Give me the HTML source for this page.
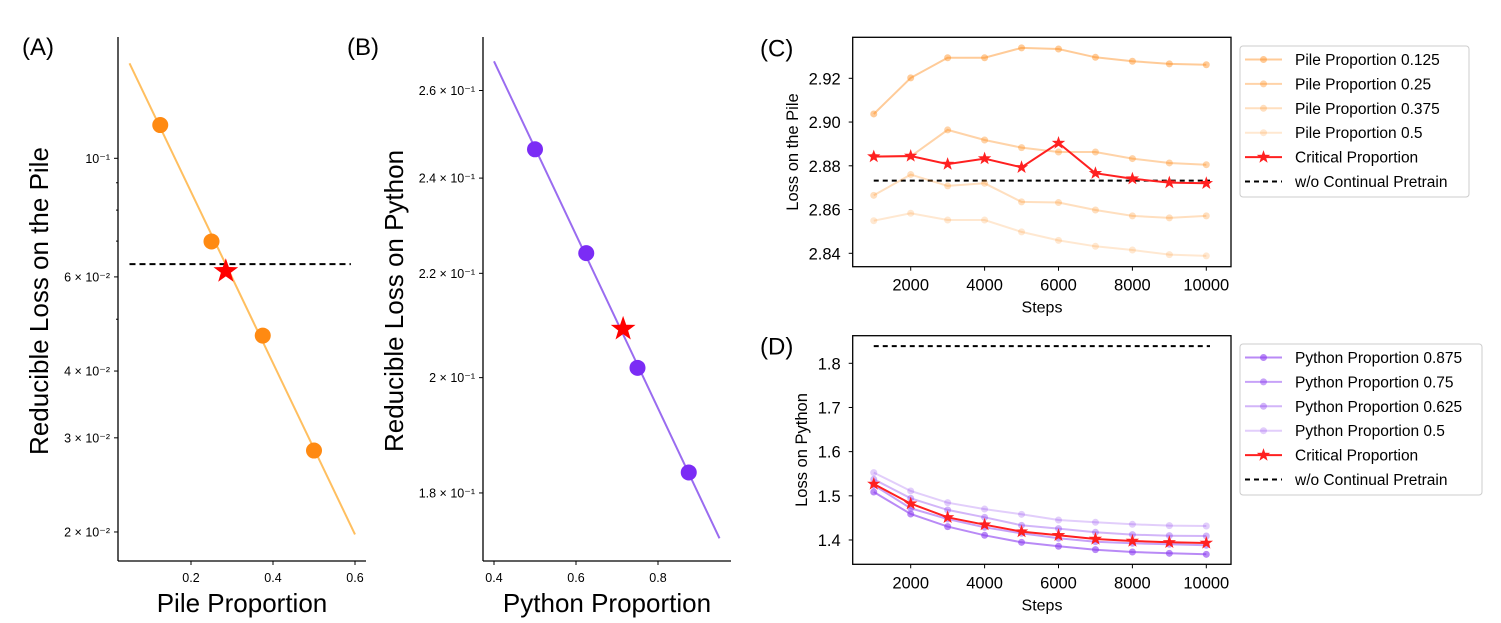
<!DOCTYPE html>
<html><head><meta charset="utf-8"><style>
html,body{margin:0;padding:0;background:#fff;}
svg{display:block;font-family:"Liberation Sans",Arial,sans-serif;}
</style></head><body>
<svg id="fig" width="1501" height="623" viewBox="0 0 1501 623" xmlns="http://www.w3.org/2000/svg"></svg>
<script>
// ---- Panel A data ----
const pileProps = [0.125, 0.25, 0.375, 0.5];
const pileLoss = [0.1154, 0.0699, 0.0466, 0.0284];
const pileCritX = [0.285];
const pileCritY = [0.0615];
const pileBaseline = [0.0634];
const pileYTicks = [0.1, 0.06, 0.04, 0.03, 0.02];
const pileYTickLabels = ["10⁻¹", "6 × 10⁻²", "4 × 10⁻²", "3 × 10⁻²", "2 × 10⁻²"];
const pileYMinor = [0.09, 0.08, 0.07, 0.05];
const pileXTicks = [0.2, 0.4, 0.6];
// ---- Panel B data ----
const pyProps = [0.5, 0.625, 0.75, 0.875];
const pyLoss = [0.2464, 0.2241, 0.2018, 0.1834];
const pyCritX = [0.715];
const pyCritY = [0.2091];
const pyYTicks = [0.26, 0.24, 0.22, 0.2, 0.18];
const pyYTickLabels = ["2.6 × 10⁻¹", "2.4 × 10⁻¹", "2.2 × 10⁻¹", "2 × 10⁻¹", "1.8 × 10⁻¹"];
const pyXTicks = [0.4, 0.6, 0.8];
// ---- Panel C data ----
const steps = [1000,2000,3000,4000,5000,6000,7000,8000,9000,10000];
const pile0125 = [2.9037,2.9202,2.9294,2.9294,2.9339,2.9334,2.9296,2.9278,2.9266,2.9262];
const pile025 = [2.8843,2.8843,2.8964,2.8918,2.8883,2.8863,2.8863,2.8833,2.8813,2.8805];
const pile0375 = [2.8665,2.8760,2.8708,2.8720,2.8635,2.8632,2.8598,2.8571,2.8562,2.8571];
const pile05 = [2.8549,2.8583,2.8552,2.8552,2.8498,2.8459,2.8432,2.8415,2.8394,2.8388];
const pileCrit = [2.8842,2.8845,2.8808,2.8833,2.8793,2.8904,2.8766,2.8741,2.8723,2.8720];
const pileNoCPT = [2.8732];
const cYTicks = [2.84,2.86,2.88,2.90,2.92];
const cYTickLabels = ["2.84","2.86","2.88","2.90","2.92"];
const stepTicks = [2000,4000,6000,8000,10000];
// ---- Panel D data ----
const py0875 = [1.5087,1.4589,1.4302,1.4106,1.3947,1.3857,1.3781,1.3728,1.3698,1.3675];
const py075 = [1.5240,1.4717,1.4475,1.4287,1.4151,1.4038,1.3962,1.3925,1.3902,1.3880];
const py0625 = [1.5374,1.4943,1.4680,1.4513,1.4332,1.4257,1.4174,1.4121,1.4098,1.4090];
const py05 = [1.5525,1.5110,1.4845,1.4700,1.4581,1.4453,1.4400,1.4355,1.4325,1.4317];
const pyCrit = [1.5268,1.4823,1.4513,1.4347,1.4189,1.4106,1.4023,1.3977,1.3947,1.3932];
const pyNoCPT = [1.839];
const dYTicks = [1.4,1.5,1.6,1.7,1.8];
const dYTickLabels = ["1.4","1.5","1.6","1.7","1.8"];

const NS = "http://www.w3.org/2000/svg";
const svg = document.getElementById('fig');
function mk(tag, attrs, parent, text){
  const e = document.createElementNS(NS, tag);
  for (const k in attrs) e.setAttribute(k, attrs[k]);
  if (text !== undefined) e.textContent = text;
  (parent || svg).appendChild(e);
  return e;
}
function grp(name){
  const g = document.createElementNS(NS,'g');
  
  
  svg.appendChild(g);
  return g;
}
function starPts(cx, cy, R){
  const r = R*0.4; let p=[];
  for(let i=0;i<10;i++){const a=-Math.PI/2+i*Math.PI/5; const rr=i%2?r:R; p.push((cx+rr*Math.cos(a)).toFixed(1)+','+(cy+rr*Math.sin(a)).toFixed(1));}
  return p.join(' ');
}
function fit(xs, ys){
  const n=xs.length; const ly=ys.map(Math.log10);
  const mx=xs.reduce((a,b)=>a+b)/n, my=ly.reduce((a,b)=>a+b)/n;
  let sxy=0,sxx=0; for(let i=0;i<n;i++){sxy+=(xs[i]-mx)*(ly[i]-my); sxx+=(xs[i]-mx)**2;}
  const b=sxy/sxx; return x=>Math.pow(10, my+b*(x-mx));
}

// ===== Panel A =====
(function(){
  const g = grp('panel-a');
  const xA = v => 109 + v*410;
  const yA = v => 158.3 + (-1 - Math.log10(v))*534.6;
  mk('text',{x:22,y:55,'font-size':24,},g,'(A)');
  mk('line',{x1:118,y1:37,x2:118,y2:561,stroke:'#000','stroke-width':1.3,},g);
  mk('line',{x1:118,y1:561,x2:366,y2:561,stroke:'#000','stroke-width':1.3,},g);
  pileYTicks.forEach((t,i)=>{
    const y=yA(t);
    const l=mk('line',{x1:114,y1:y,x2:118,y2:y,stroke:'#000'},g);
     
    const tx=mk('text',{x:110,y:y+4.5,'font-size':12.5,'text-anchor':'end'},g,pileYTickLabels[i]);
     
  });
  pileYMinor.forEach(t=>{const y=yA(t); const l=mk('line',{x1:116,y1:y,x2:118,y2:y,stroke:'#000'},g);
     });
  pileXTicks.forEach(t=>{const x=xA(t);
    const l=mk('line',{x1:x,y1:561,x2:x,y2:565,stroke:'#000'},g);
     
    const tx=mk('text',{x:x,y:582,'font-size':12.5,'text-anchor':'middle'},g,t.toFixed(1));
     });
  const f=fit(pileProps,pileLoss);
  const fl=mk('line',{x1:xA(0.05),y1:yA(f(0.05)),x2:xA(0.6),y2:yA(f(0.6)),stroke:'#ffbf60','stroke-width':2},g);
   
  const bl=mk('line',{x1:xA(0.05),y1:yA(pileBaseline[0]),x2:xA(0.59),y2:yA(pileBaseline[0]),stroke:'#000','stroke-width':2,'stroke-dasharray':'6,4'},g);
   
  pileProps.forEach((p,i)=>{const c=mk('ellipse',{cx:xA(p),cy:yA(pileLoss[i]),rx:8,ry:8,fill:'#ff8a12'},g);
     });
  const s=mk('polygon',{points:starPts(xA(pileCritX[0]),yA(pileCritY[0]),13),fill:'#ff0000'},g);
   
  mk('text',{x:48,y:301,'font-size':26,'text-anchor':'middle',transform:'rotate(-90 48 301)',},g,'Reducible Loss on the Pile');
  mk('text',{x:242,y:612,'font-size':26,'text-anchor':'middle',},g,'Pile Proportion');
})();

// ===== Panel B =====
(function(){
  const g = grp('panel-b');
  const xB = v => 494 + (v-0.4)*410;
  const yB = v => 90.5 + (Math.log10(0.26) - Math.log10(v))*2520;
  mk('text',{x:347,y:55,'font-size':24,},g,'(B)');
  mk('line',{x1:483,y1:37,x2:483,y2:561,stroke:'#000','stroke-width':1.3,},g);
  mk('line',{x1:483,y1:561,x2:731,y2:561,stroke:'#000','stroke-width':1.3,},g);
  pyYTicks.forEach((t,i)=>{const y=yB(t);
    const l=mk('line',{x1:479,y1:y,x2:483,y2:y,stroke:'#000'},g);
     
    const tx=mk('text',{x:475,y:y+4.5,'font-size':12.5,'text-anchor':'end'},g,pyYTickLabels[i]);
     });
  pyXTicks.forEach(t=>{const x=xB(t);
    const l=mk('line',{x1:x,y1:561,x2:x,y2:565,stroke:'#000'},g);
     
    const tx=mk('text',{x:x,y:582,'font-size':12.5,'text-anchor':'middle'},g,t.toFixed(1));
     });
  const f=fit(pyProps,pyLoss);
  const fl=mk('line',{x1:xB(0.4),y1:yB(f(0.4)),x2:xB(0.95),y2:yB(f(0.95)),stroke:'#9a6cf0','stroke-width':2},g);
   
  pyProps.forEach((p,i)=>{const c=mk('ellipse',{cx:xB(p),cy:yB(pyLoss[i]),rx:8,ry:8,fill:'#7b2cf5'},g);
     });
  const s=mk('polygon',{points:starPts(xB(pyCritX[0]),yB(pyCritY[0]),13),fill:'#ff0000'},g);
   
  mk('text',{x:403,y:301,'font-size':26,'text-anchor':'middle',transform:'rotate(-90 403 301)',},g,'Reducible Loss on Python');
  mk('text',{x:607,y:612,'font-size':26,'text-anchor':'middle',},g,'Python Proportion');
})();

// ===== Line panels C & D =====
function linePanel(o){
  const g = grp(o.name);
  const L=852.7,R=1231,T=o.top,B=o.bottom;
  const xS = v => 836.8 + v*0.03695;
  const yS = v => o.y0px + (o.y0 - v)*o.pxPer;
  mk('text',{x:760,y:o.top+19,'font-size':24,},g,o.label);
  mk('rect',{x:L,y:T,width:R-L,height:B-T,fill:'none',stroke:'#000','stroke-width':1.3,},g);
  o.yTicks.forEach((t,i)=>{const y=yS(t);
    const l=mk('line',{x1:L-4,y1:y,x2:L,y2:y,stroke:'#000'},g);
     
    const tx=mk('text',{x:L-12,y:y+6,'font-size':16.5,'text-anchor':'end'},g,o.yLabels[i]);
     });
  stepTicks.forEach(t=>{const x=xS(t);
    const l=mk('line',{x1:x,y1:B,x2:x,y2:B+4,stroke:'#000'},g);
     
    const tx=mk('text',{x:x,y:B+24,'font-size':16.5,'text-anchor':'middle'},g,String(t));
     });
  mk('text',{x:1042,y:B+46,'font-size':16,'text-anchor':'middle',},g,'Steps');
  mk('text',{x:o.ylx,y:(T+B)/2,'font-size':16.5,'text-anchor':'middle',transform:`rotate(-90 ${o.ylx} ${(T+B)/2})`,},g,o.yTitle);
  const base=mk('line',{x1:xS(1000),y1:yS(o.base),x2:xS(10100),y2:yS(o.base),stroke:'#000','stroke-width':2,'stroke-dasharray':'5,4'},g);
   
  o.series.forEach(s=>{
    const pts=steps.map((st,i)=>xS(st).toFixed(1)+','+yS(s.v[i]).toFixed(1)).join(' ');
    const pl=mk('polyline',{points:pts,fill:'none',stroke:s.c,'stroke-width':2,'stroke-opacity':s.a},g);
     
    steps.forEach((st,i)=>{
      if(s.star){const p=mk('polygon',{points:starPts(xS(st),yS(s.v[i]),7),fill:s.c},g);
         }
      else {const c=mk('circle',{cx:xS(st),cy:yS(s.v[i]),r:3.5,fill:s.c,'fill-opacity':s.a},g);
         }
    });
  });
  const lg=mk('rect',{x:1240,y:o.legTop,width:o.legW,height:151,rx:3,fill:'#fff',stroke:'#ccc','stroke-width':1},g);
   
  o.series.forEach((s,i)=>{
    const y=o.legTop+13.5+i*24.4;
    const l=mk('line',{x1:1245,y1:y,x2:1282,y2:y,stroke:s.c,'stroke-width':2,'stroke-opacity':s.a},g);
     
    if(s.star){const p=mk('polygon',{points:starPts(1263.5,y,7),fill:s.c},g);
       }
    else {const c=mk('circle',{cx:1263.5,cy:y,r:3.5,fill:s.c,'fill-opacity':s.a},g);
       }
    const t=mk('text',{x:1295,y:y+5.5,'font-size':15.5},g,s.n);
     
  });
  const y=o.legTop+13.5+o.series.length*24.4;
  const dl=mk('line',{x1:1245,y1:y,x2:1282,y2:y,stroke:'#000','stroke-width':2,'stroke-dasharray':'5,4'},g);
   
  const dt=mk('text',{x:1295,y:y+5.5,'font-size':15.5},g,'w/o Continual Pretrain');
   
}
const OR='#ff8c1a', PU='#8a3cf0';
linePanel({name:'panel-c',label:'(C)',top:37.3,bottom:266.7,y0:2.92,y0px:78.3,pxPer:2187.5,
  yTicks:cYTicks,yLabels:cYTickLabels,yTitle:'Loss on the Pile',ylx:798,base:pileNoCPT[0],legTop:46,legW:229,
  series:[{n:'Pile Proportion 0.125',v:pile0125,c:OR,a:0.45},{n:'Pile Proportion 0.25',v:pile025,c:OR,a:0.38},
    {n:'Pile Proportion 0.375',v:pile0375,c:OR,a:0.28},{n:'Pile Proportion 0.5',v:pile05,c:OR,a:0.2},
    {n:'Critical Proportion',v:pileCrit,c:'#ff2020',a:1,star:true}]});
linePanel({name:'panel-d',label:'(D)',top:335.7,bottom:564.3,y0:1.8,y0px:363.3,pxPer:441.7,
  yTicks:dYTicks,yLabels:dYTickLabels,yTitle:'Loss on Python',ylx:807,base:pyNoCPT[0],legTop:344,legW:242,
  series:[{n:'Python Proportion 0.875',v:py0875,c:PU,a:0.6},{n:'Python Proportion 0.75',v:py075,c:PU,a:0.48},
    {n:'Python Proportion 0.625',v:py0625,c:PU,a:0.38},{n:'Python Proportion 0.5',v:py05,c:PU,a:0.25},
    {n:'Critical Proportion',v:pyCrit,c:'#ff2020',a:1,star:true}]});
</script>
</body></html>
